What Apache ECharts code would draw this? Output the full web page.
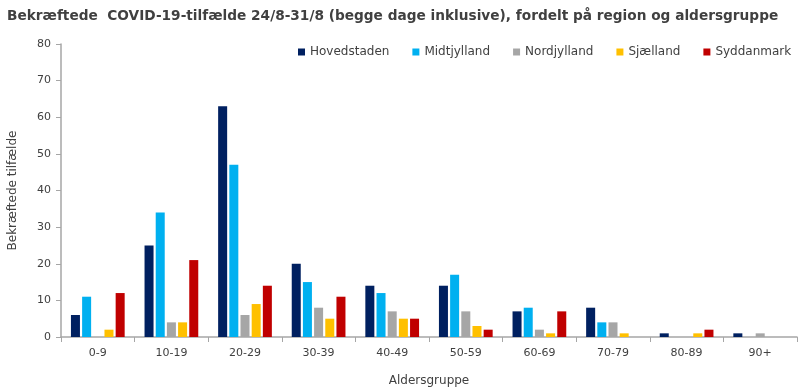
<!DOCTYPE html>
<html>
<head>
<meta charset="utf-8">
<script src="https://cdn.jsdelivr.net/npm/echarts@6/dist/echarts.min.js"></script>
<style>html,body{margin:0;padding:0;background:#fff}#c{width:800px;height:392px}</style>
</head>
<body>
<div id="c"></div>
<script>
const categories = ['0-9','10-19','20-29','30-39','40-49','50-59','60-69','70-79','80-89','90+'];
const seriesNames = ['Hovedstaden','Midtjylland','Nordjylland','Sjælland','Syddanmark'];
const hovedstaden = [6,25,63,20,14,14,7,8,1,1];
const midtjylland = [11,34,47,15,12,17,8,4,0,0];
const nordjylland = [0,4,6,8,7,7,2,4,0,1];
const sjaelland   = [2,4,9,5,5,3,1,1,1,0];
const syddanmark  = [12,21,14,11,5,2,7,0,2,0];
const yTicks = [0,10,20,30,40,50,60,70,80];
const colors = ['#002060','#00b0f0','#a6a6a6','#ffc000','#c00000'];
const values = [hovedstaden, midtjylland, nordjylland, sjaelland, syddanmark];
const font = 'DejaVu Sans';
const chart = echarts.init(document.getElementById('c'));
chart.setOption({
  animation: false,
  textStyle: {fontFamily: font},
  title: {
    text: 'Bekræftede  COVID-19-tilfælde 24/8-31/8 (begge dage inklusive), fordelt på region og aldersgruppe',
    left: 2, top: 4,
    textStyle: {fontFamily: font, fontSize: 13.7, fontWeight: 'bold', color: '#404040'}
  },
  legend: {
    top: 41, left: 293, width: 507, padding: [5, 0, 5, 5],
    itemWidth: 7, itemHeight: 7, itemGap: 23,
    icon: 'rect',
    textStyle: {fontFamily: font, fontSize: 12, color: '#404040'},
    data: seriesNames
  },
  grid: {left: 61, right: 3, top: 44, bottom: 55, outerBoundsMode: 'none', containLabel: false},
  xAxis: {
    type: 'category',
    data: categories,
    name: 'Aldersgruppe', nameLocation: 'middle', nameGap: 38,
    nameTextStyle: {fontSize: 12, color: '#404040'},
    axisLine: {lineStyle: {color: '#a6a6a6', width: 1.5}},
    axisTick: {show: true, length: 5, lineStyle: {color: '#a6a6a6'}},
    axisLabel: {fontSize: 11, color: '#404040', margin: 11}
  },
  yAxis: {
    type: 'value', min: 0, max: 80, interval: 10,
    name: 'Bekræftede tilfælde', nameLocation: 'middle', nameGap: 42, nameRotate: 90,
    nameTextStyle: {fontSize: 12, color: '#404040'},
    axisLine: {show: true, lineStyle: {color: '#a6a6a6', width: 1.5}},
    axisTick: {show: true, length: 5, lineStyle: {color: '#a6a6a6'}},
    splitLine: {show: false},
    axisLabel: {fontSize: 11, color: '#404040', margin: 10,
      formatter: v => yTicks.includes(v) ? String(v) : ''}
  },
  series: seriesNames.map((n, i) => ({
    name: n, type: 'bar', data: values[i],
    itemStyle: {color: colors[i]},
    barGap: '24%', barCategoryGap: '27%'
  }))
});
</script>
</body>
</html>
